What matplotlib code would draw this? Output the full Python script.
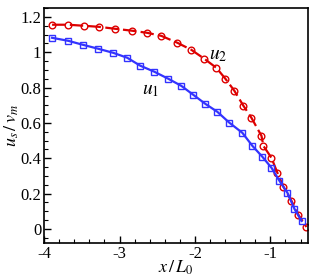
import numpy as np
from matplotlib import pyplot as plt
from matplotlib.ticker import MultipleLocator

plt.rcParams['font.family'] = ['Liberation Serif', 'DejaVu Serif']
plt.rcParams['mathtext.fontset'] = 'stix'

# u1 (blue squares, solid line)
x_u1 = np.array([-3.894, -3.681, -3.482, -3.283, -3.084, -2.898, -2.725, -2.539, -2.353,
                 -2.181, -2.021, -1.862, -1.703, -1.543, -1.371, -1.238, -1.105, -0.985,
                 -0.879, -0.773, -0.680, -0.587])
y_u1 = np.array([1.082, 1.065, 1.042, 1.020, 0.997, 0.969, 0.924, 0.890, 0.850,
                 0.810, 0.759, 0.708, 0.663, 0.601, 0.544, 0.470, 0.408, 0.346,
                 0.272, 0.204, 0.113, 0.045])

# u2 (red circles, dashed line)
x_u2 = np.array([-3.894, -3.681, -3.469, -3.270, -3.057, -2.831, -2.632, -2.446, -2.234,
                 -2.048, -1.875, -1.716, -1.596, -1.477, -1.357, -1.251, -1.118, -1.092,
                 -0.985, -0.906, -0.826, -0.720, -0.627, -0.521])
y_u2 = np.array([1.156, 1.156, 1.150, 1.144, 1.133, 1.122, 1.110, 1.093, 1.054,
                 1.014, 0.963, 0.912, 0.850, 0.782, 0.697, 0.629, 0.527, 0.470,
                 0.402, 0.317, 0.238, 0.159, 0.079, 0.011])

fig = plt.figure(figsize=(3.15, 2.8), dpi=100)
ax = fig.add_axes([0.14, 0.132, 0.838, 0.839])

ax.plot(x_u2, y_u2, '--', color='#dd0000', lw=1.6, marker='o', ms=4.8,
        mfc='none', mec='#dd0000', mew=1.0, dashes=(6, 2))
ax.plot(x_u1, y_u1, '-', color='#3333ff', lw=1.6, marker='s', ms=4.5,
        mfc='none', mec='#3333ff', mew=1.0)

ax.text(-1.82, 0.96, '$u_2$', fontsize=14)
ax.text(-2.70, 0.76, '$u_1$', fontsize=14)

ax.set_xlim(-4, -0.5)
ax.set_ylim(-0.08, 1.25)
ax.xaxis.set_minor_locator(MultipleLocator(0.2))
ax.yaxis.set_minor_locator(MultipleLocator(0.05))
ax.set_xticks([-4, -3, -2, -1])
ax.set_xticklabels(['-4', '-3', '-2', '-1'])
ax.set_yticks([0, 0.2, 0.4, 0.6, 0.8, 1, 1.2])
ax.set_yticklabels(['0', '0.2', '0.4', '0.6', '0.8', '1', '1.2'])
ax.tick_params(which='both', direction='in', top=False, right=False, labelsize=12)
ax.tick_params(which='major', length=5, width=1, pad=2)
ax.tick_params(which='minor', length=3, width=0.8)
for s in ax.spines.values():
    s.set_linewidth(1.2)

ax.set_xlabel('$x\\,/\\,L_0$', fontsize=13)
ax.set_ylabel('$u_s\\,/\\,v_m$', fontsize=13)
ax.xaxis.set_label_coords(0.5, -0.065)
ax.yaxis.set_label_coords(-0.088, 0.5)

plt.savefig('out.png', dpi=100)
